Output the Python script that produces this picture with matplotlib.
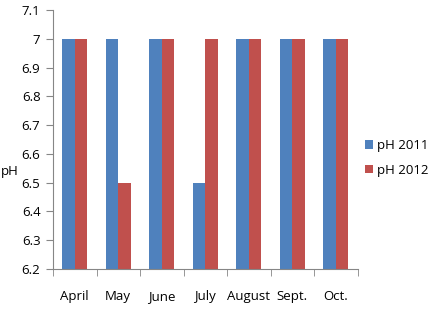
import numpy as np
import matplotlib.pyplot as plt

months = ['April', 'May', 'June', 'July', 'August', 'Sept.', 'Oct.']
ph_2011 = [7.0, 7.0, 7.0, 6.5, 7.0, 7.0, 7.0]
ph_2012 = [7.0, 6.5, 7.0, 7.0, 7.0, 7.0, 7.0]

plt.rcParams['font.family'] = ['Open Sans', 'DejaVu Sans']

fig = plt.figure(figsize=(4.3, 3.09), dpi=100)
ax = fig.add_axes([53 / 430, 1 - 269 / 309, 304.5 / 430, 259 / 309])

x = np.arange(len(months))
w = 0.29
ax.bar(x - w / 2, np.array(ph_2011) - 6.2, w, bottom=6.2, color='#4F81BD', label='pH 2011')
ax.bar(x + w / 2, np.array(ph_2012) - 6.2, w, bottom=6.2, color='#C0504D', label='pH 2012')

ax.set_xlim(-0.5, len(months) - 0.5)
ax.set_ylim(6.2, 7.1)
ax.set_yticks(np.arange(6.2, 7.101, 0.1))
ax.set_yticklabels(['6.2', '6.3', '6.4', '6.5', '6.6', '6.7', '6.8', '6.9', '7', '7.1'])
ax.set_xticks(x)
ax.set_xticklabels(months)
ax.set_xticks(np.arange(-0.5, len(months)), minor=True)
ax.tick_params(axis='x', which='major', length=0, pad=15, labelsize=9.5)
ax.tick_params(axis='x', which='minor', length=5, color='#868686')
ax.tick_params(axis='y', length=5, color='#868686', labelsize=9.5, pad=4)

for s in ['top', 'right']:
    ax.spines[s].set_visible(False)
for s in ['left', 'bottom']:
    ax.spines[s].set_color('#868686')

ax.set_ylabel('pH', fontsize=9.5, rotation=0, va='center', ha='left')
ax.yaxis.set_label_coords(-52 / 304.5, (269 - 172) / 259)

fig.legend(loc='center left', bbox_to_anchor=(365 / 430, 1 - 158 / 309), frameon=False,
           fontsize=9.5, handlelength=0.6, handleheight=0.6, labelspacing=0.9,
           handletextpad=0.3, borderpad=0, borderaxespad=0)

fig.savefig('out.png', dpi=100)
